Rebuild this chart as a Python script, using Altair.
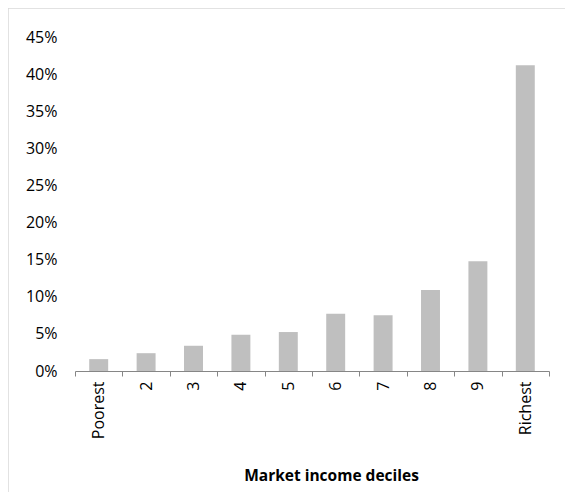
import altair as alt
import pandas as pd

categories = ["Poorest", "2", "3", "4", "5", "6", "7", "8", "9", "Richest"]
shares = [0.016, 0.024, 0.034, 0.049, 0.0525, 0.077, 0.075, 0.109, 0.148, 0.412]
y_ticks = [0, 0.05, 0.10, 0.15, 0.20, 0.25, 0.30, 0.35, 0.40, 0.45]

df = pd.DataFrame({"decile": categories, "share": shares})

FONT = "Open Sans"

bars = alt.Chart(df).mark_bar(
    color="#BFBFBF", width=alt.RelativeBandSize(0.4)
).encode(
    x=alt.X(
        "decile:N",
        sort=categories,
        scale=alt.Scale(paddingInner=0, paddingOuter=0),
        axis=alt.Axis(
            title="Market income deciles",
            titleFont=FONT,
            titleFontSize=15.5,
            titleFontWeight="bold",
            titleColor="#000000",
            titleX=256,
            titleY=104,
            titleBaseline="middle",
            titleAnchor="middle",
            titleAlign="center",
            labelAngle=270,
            labelAlign="right",
            labelBaseline="middle",
            labelFont=FONT,
            labelFontSize=16,
            labelColor="#000000",
            labelPadding=5,
            tickBand="extent",
            tickSize=5,
            tickColor="#868686",
            domainColor="#868686",
            labelOverlap=False,
        ),
    ),
    y=alt.Y(
        "share:Q",
        scale=alt.Scale(domain=[0, 0.45], nice=False),
        axis=alt.Axis(
            title=None,
            values=y_ticks,
            format=".0%",
            grid=False,
            ticks=False,
            domain=False,
            labelFont=FONT,
            labelFontSize=16,
            labelColor="#000000",
            labelPadding=18,
        ),
    ),
)

top_line = alt.Chart(alt.Data(values=[{}])).mark_rule(
    stroke="#D9D9D9", strokeWidth=1.5
).encode(x=alt.value(-67), x2=alt.value(700), y=alt.value(-29))

left_line = alt.Chart(alt.Data(values=[{}])).mark_rule(
    stroke="#D9D9D9", strokeWidth=1.5
).encode(x=alt.value(-67), y=alt.value(-29), y2=alt.value(700))

chart = alt.layer(top_line, left_line, bars).properties(
    width=474,
    height=334,
    autosize=alt.AutoSizeParams(type="none"),
    padding={"left": 67, "top": 29, "right": 16, "bottom": 121},
).configure_view(stroke=None)

chart.save("out.html", embed_options={"renderer": "svg", "actions": False})
